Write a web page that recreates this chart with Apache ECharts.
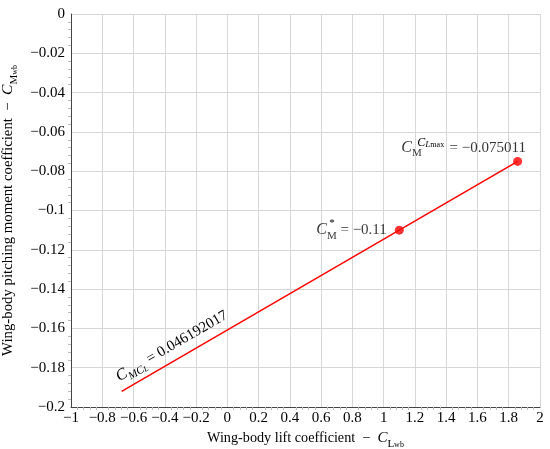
<!DOCTYPE html>
<html>
<head>
<meta charset="utf-8">
<script src="https://cdn.jsdelivr.net/npm/echarts@6/dist/echarts.min.js"></script>
<style>html,body{margin:0;padding:0;background:#fff}#c{width:550px;height:449px}</style>
</head>
<body>
<div id="c"></div>
<script>
// Data
const lineX = [-0.676, 1.857];
const lineY = [-0.19204, -0.075011];
const pointX = [1.1, 1.857];
const pointY = [-0.11, -0.075011];
const slopeText = '0.046192017';
const pointTexts = ['−0.11', '−0.075011'];
const xLabelsRange = [-1, 2];
const yLabelsRange = [-0.2, 0];

const FONT = '"Liberation Serif", "DejaVu Serif", serif';
const fmt = v => {
  let s = (Math.round(v * 1000) / 1000).toString();
  if (s === '-0') s = '0';
  return s.replace('-', '−');
};
const mathRich = {
  t: {fontFamily: FONT, fontSize: 15, color: '#000', verticalAlign: 'middle', lineHeight: 22},
  c: {fontFamily: FONT, fontSize: 16, fontStyle: 'italic', color: '#000', verticalAlign: 'middle', lineHeight: 22},
  s: {fontFamily: FONT, fontSize: 11, color: '#000', verticalAlign: 'bottom', lineHeight: 12},
  si: {fontFamily: FONT, fontSize: 11, fontStyle: 'italic', color: '#000', verticalAlign: 'bottom', lineHeight: 12},
  ss: {fontFamily: FONT, fontSize: 8, color: '#000', verticalAlign: 'bottom', lineHeight: 8},
  ssi: {fontFamily: FONT, fontSize: 8, fontStyle: 'italic', color: '#000', verticalAlign: 'bottom', lineHeight: 8},
  sup: {fontFamily: FONT, fontSize: 11, color: '#000', verticalAlign: 'top', lineHeight: 12},
  gap: {width: 24}
};
const nameRichX = Object.assign({}, mathRich, {
  t: {fontFamily: FONT, fontSize: 14.2, color: '#000', verticalAlign: 'middle', lineHeight: 22},
  c: {fontFamily: FONT, fontSize: 15, fontStyle: 'italic', color: '#000', verticalAlign: 'middle', lineHeight: 22}
});
const nameRichY = Object.assign({}, mathRich, {
  t: {fontFamily: FONT, fontSize: 14.8, color: '#000', verticalAlign: 'middle', lineHeight: 22},
  c: {fontFamily: FONT, fontSize: 15.5, fontStyle: 'italic', color: '#000', verticalAlign: 'middle', lineHeight: 22}
});

const chart = echarts.init(document.getElementById('c'));
chart.setOption({
  animation: false,
  grid: {left: 71, right: 10, top: 14, bottom: 42, outerBoundsMode: 'none', containLabel: false},
  xAxis: {
    type: 'value', min: xLabelsRange[0], max: xLabelsRange[1], interval: 0.2,
    name: '{t|Wing-body lift coefficient  −  }{c|C}{s|L}{ss|wb}',
    nameLocation: 'middle', nameGap: 14,
    nameTextStyle: {rich: nameRichX},
    axisLine: {show: true, onZero: false, lineStyle: {color: '#444', width: 1}},
    axisTick: {show: false},
    minorTick: {show: true, splitNumber: 5, length: 3, lineStyle: {color: '#bbb'}},
    axisLabel: {formatter: fmt, fontFamily: FONT, fontSize: 15, color: '#000', margin: 4},
    splitLine: {show: true, lineStyle: {color: '#d6d6d6', width: 1}}
  },
  yAxis: {
    type: 'value', min: yLabelsRange[0], max: yLabelsRange[1], interval: 0.02,
    name: '{t|Wing-body pitching moment coefficient  −  }{c|C}{s|M}{ss|wb}',
    nameLocation: 'middle', nameGap: 43, nameRotate: 90,
    nameTextStyle: {rich: nameRichY},
    axisLine: {show: true, onZero: false, lineStyle: {color: '#444', width: 1}},
    axisTick: {show: false},
    minorTick: {show: true, splitNumber: 5, length: 3, lineStyle: {color: '#bbb'}},
    axisLabel: {formatter: fmt, fontFamily: FONT, fontSize: 15, color: '#000', margin: 6},
    splitLine: {show: true, lineStyle: {color: '#d6d6d6', width: 1}}
  },
  series: [
    {
      type: 'line',
      data: lineX.map((x, i) => [x, lineY[i]]),
      showSymbol: false,
      lineStyle: {color: '#ff0000', width: 1.5},
      silent: true,
      markLine: {
        silent: true,
        symbol: 'none',
        lineStyle: {color: 'rgba(0,0,0,0)', width: 1, type: 'solid'},
        label: {
          show: true, position: 'insideStartTop', distance: 3,
          formatter: '{c|C}{si|MC}{ssi|L}{t| = ' + slopeText + '}',
          rich: mathRich
        },
        data: [[{coord: [lineX[0], lineY[0]]}, {coord: [lineX[1], lineY[1]]}]]
      }
    },
    {
      type: 'scatter',
      symbol: 'circle', symbolSize: 9,
      itemStyle: {color: '#ff0000'},
      data: [
        {value: [pointX[0], pointY[0]], label: {show: true, position: 'left', distance: 8,
          formatter: '{c|C}{s|M}{t| = ' + pointTexts[0] + '}', rich: mathRich}},
        {value: [pointX[1], pointY[1]], label: {show: true, position: 'top', distance: 2, offset: [-54, 4],
          formatter: '{c|C}{s|M}{gap|}{t| = ' + pointTexts[1] + '}', rich: mathRich}}
      ],
      markPoint: {
        symbol: 'circle',
        symbolSize: 1,
        itemStyle: {color: 'rgba(0,0,0,0)'},
        silent: true,
        label: {show: true},
        data: [
          {coord: [pointX[0], pointY[0]], label: {show: true, position: 'left', distance: 0, offset: [-64, -7],
            formatter: '{sup|*}', rich: mathRich}},
          {coord: [pointX[1], pointY[1]], label: {show: true, position: 'left', distance: 0, offset: [-73, -19],
            formatter: '{ci|C}{lm|L}{lm2|max}', rich: {
              ci: {fontFamily: FONT, fontSize: 12, fontStyle: 'italic', color: '#000', verticalAlign: 'middle', lineHeight: 14},
              lm: {fontFamily: FONT, fontSize: 9, fontStyle: 'italic', color: '#000', verticalAlign: 'bottom', lineHeight: 9},
              lm2: {fontFamily: FONT, fontSize: 8, color: '#000', verticalAlign: 'bottom', lineHeight: 9}
            }}}
        ]
      }
    }
  ]
});
</script>
</body>
</html>
